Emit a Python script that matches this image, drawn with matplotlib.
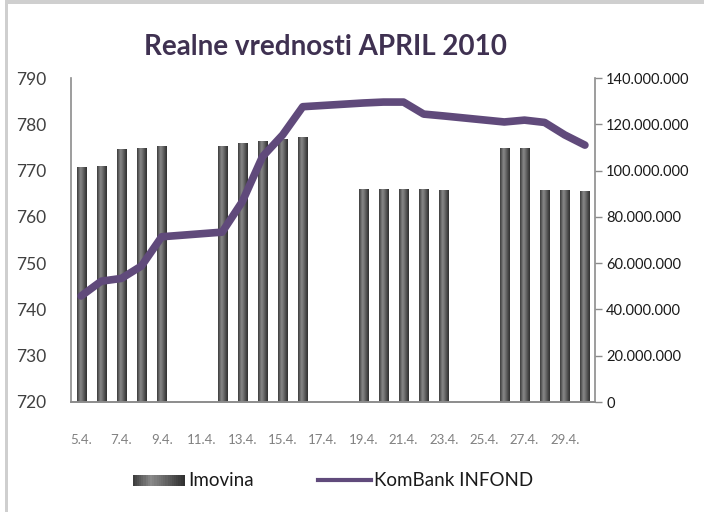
import matplotlib
matplotlib.use("Agg")
import matplotlib.pyplot as plt
import numpy as np
from matplotlib.colors import LinearSegmentedColormap
from matplotlib.legend_handler import HandlerBase
from matplotlib.patches import Rectangle
from matplotlib.lines import Line2D

# ---- data ----
days = [5, 6, 7, 8, 9, 12, 13, 14, 15, 16, 19, 20, 21, 22, 23, 26, 27, 28, 29, 30]
imovina = [101.5, 102.0, 109.3, 109.8, 110.6, 110.6, 111.9, 112.8, 113.6, 114.5,
           92.0, 92.0, 92.0, 92.0, 91.6, 109.8, 109.8, 91.5, 91.5, 91.0]  # millions
infond = [742.9, 746.1, 746.7, 749.4, 755.7, 756.7, 763.3, 773.0, 777.7, 783.8,
          784.6, 784.8, 784.8, 782.2, 781.8, 780.5, 780.9, 780.4, 777.7, 775.5]
tick_days = list(range(5, 30, 2))
tick_labels = [f"{d}.4." for d in tick_days]
left_ticks = list(range(720, 791, 10))
right_ticks = [v * 1e6 for v in range(0, 141, 20)]

plt.rcParams['font.family'] = ['Lato', 'DejaVu Sans']

fig = plt.figure(figsize=(7.06, 5.12), dpi=100)
fig.patch.set_facecolor('white')

# figure border (top and left)
fig.add_artist(Rectangle((5/706, 0), 3/706, 1, transform=fig.transFigure,
                         facecolor='#cfcfcf', edgecolor='none'))
fig.add_artist(Rectangle((5/706, 508/512), 699/706, 4/512, transform=fig.transFigure,
                         facecolor='#cfcfcf', edgecolor='none'))

ax = fig.add_axes([71/706, 110/512, 524/706, 324/512])
ax2 = ax.twinx()

# bars on right axis
vals = np.array(imovina) * 1e6
bars = ax2.bar(days, vals, width=0.45, color='none', edgecolor='none')
cmap = LinearSegmentedColormap.from_list(
    'cyl', [(0, '#3a3a3a'), (0.35, '#8a8a8a'), (0.55, '#707070'), (1, '#2e2e2e')])
grad = np.linspace(0, 1, 64).reshape(1, -1)
for b in bars:
    x0, y0 = b.get_x(), b.get_y()
    w, h = b.get_width(), b.get_height()
    im = ax2.imshow(grad, cmap=cmap, aspect='auto', extent=[x0, x0 + w, y0, y0 + h],
                    interpolation='bicubic', zorder=2)
    im.set_clip_path(b)

ax2.set_ylim(0, 140e6)
ax2.set_yticks(right_ticks)
ax2.set_yticklabels([f"{v:,.0f}".replace(",", ".") for v in right_ticks],
                    fontsize=10.5, color='#1a1a1a')
ax2.tick_params(axis='y', direction='out', length=5, color='#8c8c8c', width=1, pad=3)

# line on left axis, drawn on top
ax.set_zorder(ax2.get_zorder() + 1)
ax.patch.set_visible(False)
ax.plot(days, infond, color='#604a7b', lw=5.5, solid_capstyle='round',
        solid_joinstyle='round', zorder=3)
ax.set_ylim(720, 790)
ax.set_yticks(left_ticks)
ax.set_yticklabels([str(v) for v in left_ticks], fontsize=12.5, color='#404040')
ax.tick_params(axis='y', length=0, pad=18)
ax.set_xlim(4.5, 30.5)
ax.set_xticks(tick_days)
ax.set_xticklabels(tick_labels, fontsize=9.5, color='#808080')
ax.tick_params(axis='x', length=0, pad=23)
ax2.set_xlim(4.5, 30.5)

for a in (ax, ax2):
    a.spines['top'].set_visible(False)
    for s in ('left', 'right', 'bottom'):
        a.spines[s].set_color('#8c8c8c')
        a.spines[s].set_linewidth(1.2)
ax.spines['right'].set_visible(False)
ax2.spines['left'].set_visible(False)

fig.text(325/706, 1 - 47/512, "Realne vrednosti APRIL 2010", ha='center', va='center',
         fontsize=20, fontweight='bold', color='#3f3151')


class GradHandler(HandlerBase):
    def create_artists(self, legend, orig_handle, xdescent, ydescent, width, height,
                       fontsize, trans):
        arts = []
        n = 24
        for i in range(n):
            c = cmap((i + 0.5) / n)
            r = Rectangle((-xdescent + i * width / n, -ydescent + height * 0.05),
                          width / n + 0.3, height * 0.8, facecolor=c, edgecolor='none',
                          transform=trans)
            arts.append(r)
        return arts


bar_handle = Rectangle((0, 0), 1, 1)
line_handle = Line2D([0], [0], color='#604a7b', lw=3)
fig.legend([bar_handle, line_handle], ['Imovina', 'KomBank INFOND'],
           handler_map={Rectangle: GradHandler()},
           loc='center', bbox_to_anchor=(333/706, 1 - 481/512), ncol=2, frameon=False,
           fontsize=13.5, handlelength=2.8, handletextpad=0.2, columnspacing=3.4,
           labelcolor='#1a1a1a')

fig.savefig('out.png', dpi=100, facecolor='white')
